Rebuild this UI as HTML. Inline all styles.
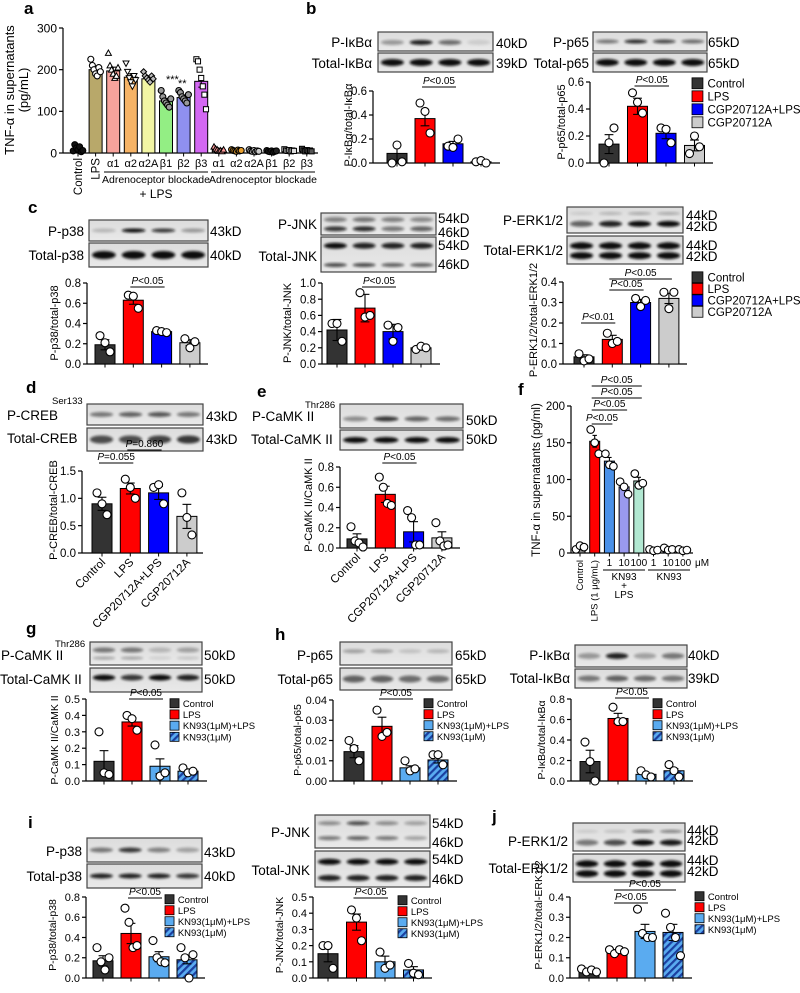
<!DOCTYPE html>
<html><head><meta charset="utf-8"><style>
html,body{margin:0;padding:0;background:#fff;}
svg{display:block;font-family:"Liberation Sans",Arial,sans-serif;}
</style></head><body>
<svg id="fig" width="800" height="993" viewBox="0 0 800 993" xmlns="http://www.w3.org/2000/svg">
<defs>
<pattern id="hatch" patternUnits="userSpaceOnUse" width="5" height="5" patternTransform="rotate(45)">
<rect width="5" height="5" fill="#5aabf0"/><rect width="2.2" height="5" fill="#1a3fa0"/></pattern>
<filter id="blur" x="-20%" y="-50%" width="140%" height="200%"><feGaussianBlur stdDeviation="1.4"/></filter>
<linearGradient id="blotbg" x1="0" y1="0" x2="0" y2="1"><stop offset="0" stop-color="#dcdcdc"/><stop offset="1" stop-color="#e9e9e9"/></linearGradient>
</defs>
</svg>
<script>
// ---------------- DATA ----------------
const groupsCGP = ['Control','LPS','CGP20712A+LPS','CGP20712A'];
const groupsKN = ['Control','LPS','KN93(1μM)+LPS','KN93(1μM)'];
const aCategories = ['Control','LPS','α1','α2','α2A','β1','β2','β3','α1','α2','α2A','β1','β2','β3'];
const aValues = [10,200,197,182,178,125,133,172,8,6,5,4,6,6];
const aErrors = [3,7,9,8,4,6,5,14,2,1,1,1,2,2];
const aPoints = [[5,20,12,8,15,3,6],[225,210,200,190,185,205,195],[240,210,200,190,180,185,205],[215,195,180,170,160,185,175],[195,185,180,175,170,185,178],[150,135,125,120,115,110,130],[150,145,135,130,125,120,140],[225,220,200,180,160,140,105],[15,10,8,5,6,4,8],[8,6,5,4,7,5,6],[8,5,4,6,3,5,4],[6,4,3,5,2,4,5],[9,6,5,7,4,6,5],[10,6,4,7,5,6,4]];
const b1Values = [0.08,0.37,0.16,0.01];
const b1Errors = [0.07,0.06,0.02,0.006];
const b1Points = [[0.0,0.15,0.01],[0.5,0.43,0.25],[0.14,0.13,0.2],[0.01,0.02,0.0]];
const b2Values = [0.14,0.42,0.22,0.13];
const b2Errors = [0.07,0.06,0.04,0.04];
const b2Points = [[0.0,0.15,0.26],[0.52,0.45,0.37],[0.26,0.25,0.15],[0.07,0.2,0.12]];
const cP38Values = [0.19,0.63,0.32,0.21];
const cP38Errors = [0.05,0.04,0.01,0.03];
const cP38Points = [[0.28,0.21,0.12],[0.68,0.67,0.55],[0.33,0.32,0.31],[0.25,0.16,0.22]];
const cJnkValues = [0.42,0.69,0.40,0.20];
const cJnkErrors = [0.13,0.17,0.09,0.03];
const cJnkPoints = [[0.5,0.5,0.28],[0.88,0.58,0.6],[0.48,0.28,0.45],[0.18,0.22,0.2]];
const cErkValues = [0.035,0.12,0.30,0.32];
const cErkErrors = [0.01,0.02,0.015,0.025];
const cErkPoints = [[0.05,0.015,0.025],[0.15,0.1,0.11],[0.32,0.28,0.31],[0.35,0.27,0.35]];
const dValues = [0.9,1.18,1.1,0.67];
const dErrors = [0.12,0.1,0.12,0.22];
const dPoints = [[1.1,0.9,0.7],[1.35,1.2,1.0],[1.2,1.25,0.9],[1.1,0.65,0.33]];
const eValues = [0.09,0.53,0.16,0.1];
const eErrors = [0.05,0.08,0.1,0.06];
const ePoints = [[0.21,0.07,0.05,0.01],[0.7,0.6,0.44,0.42],[0.37,0.3,0.03,0.03],[0.25,0.07,0.02,0.03]];
const fCategories = ['Control','LPS (1 μg/mL)','1','10','100','1','10','100'];
const fValues = [7,152,125,90,98,4,5,4];
const fErrors = [2,8,5,4,5,1,1,1];
const fPoints = [[5,10,8],[168,150,135],[135,120,118],[97,90,80],[108,92,95],[5,3,4],[7,4,5],[5,3,4]];
const gValues = [0.12,0.36,0.09,0.06];
const gErrors = [0.065,0.025,0.045,0.01];
const gPoints = [[0.3,0.05,0.04],[0.4,0.38,0.31],[0.22,0.03,0.05],[0.08,0.05,0.06]];
const h1Values = [0.0145,0.027,0.0065,0.0104];
const h1Errors = [0.003,0.0045,0.001,0.0015];
const h1Points = [[0.02,0.016,0.01],[0.035,0.022,0.024],[0.01,0.005,0.006],[0.013,0.013,0.008]];
const h2Values = [0.19,0.61,0.065,0.1];
const h2Errors = [0.11,0.05,0.01,0.02];
const h2Points = [[0.38,0.19,0.0],[0.72,0.58,0.58],[0.1,0.06,0.04],[0.16,0.1,0.04]];
const i1Values = [0.17,0.44,0.21,0.18];
const i1Errors = [0.05,0.1,0.05,0.04];
const i1Points = [[0.3,0.16,0.08,0.2],[0.69,0.55,0.3,0.32],[0.37,0.2,0.16,0.15],[0.3,0.2,0.0,0.23]];
const i2Values = [0.15,0.345,0.1,0.05];
const i2Errors = [0.05,0.05,0.035,0.02];
const i2Points = [[0.2,0.2,0.06],[0.42,0.37,0.23],[0.16,0.06,0.08],[0.09,0.03,0.02]];
const jValues = [0.035,0.13,0.23,0.225];
const jErrors = [0.005,0.01,0.035,0.04];
const jPoints = [[0.045,0.03,0.04,0.03],[0.14,0.12,0.14,0.13],[0.34,0.22,0.2,0.2],[0.32,0.25,0.2,0.11]];

// ---------------- HELPERS ----------------
const NS = 'http://www.w3.org/2000/svg';
const svg = document.getElementById('fig');
function el(tag, attrs, name, parent) {
  const e = document.createElementNS(NS, tag);
  for (const k in attrs) e.setAttribute(k, attrs[k]);
  
  
  (parent || svg).appendChild(e);
  return e;
}
function txt(x, y, s, size, name, opts) {
  opts = opts || {};
  const t = el('text', {x: x, y: y, 'font-size': size, fill: opts.fill || '#000', 'text-anchor': opts.anchor || 'start', 'font-weight': opts.bold ? 'bold' : 'normal'}, name);
  if (opts.rot !== undefined) t.setAttribute('transform', 'rotate(' + opts.rot + ' ' + x + ' ' + y + ')');
  if (opts.italic) t.setAttribute('font-style', 'italic');
  t.textContent = s;
  return t;
}
const CGP_COLORS = ['#333333', '#ff0000', '#0000ff', '#cccccc'];
const KN_COLORS = ['#333333', '#ff0000', '#5aabf0', 'url(#hatch)'];

function chart(cfg) {
  const g = el('g', {}, cfg.name);
  const y = v => cfg.y0 - (v / cfg.ymax) * (cfg.y0 - cfg.ytop);
  const xc = i => cfg.first + i * cfg.step;
  el('line', {x1: cfg.ax, y1: cfg.y0, x2: cfg.xEnd, y2: cfg.y0, stroke: '#000', 'stroke-width': 1.2}, 'x-axis', g);
  el('line', {x1: cfg.ax, y1: cfg.y0, x2: cfg.ax, y2: cfg.ytop, stroke: '#000', 'stroke-width': 1.2}, 'y-axis', g);
  cfg.ticks.forEach(t => {
    el('line', {x1: cfg.ax - 4, y1: y(t), x2: cfg.ax, y2: y(t), stroke: '#000', 'stroke-width': 1.2}, 'y-tick', g);
    const lab = txt(cfg.ax - 6, y(t) + cfg.tfs * 0.36, t.toFixed(cfg.dec), cfg.tfs, 'y-tick-label', {anchor: 'end'});
    g.appendChild(lab);
  });
  cfg.values.forEach((v, i) => {
    const cx = xc(i);
    el('line', {x1: cx, y1: cfg.y0, x2: cx, y2: cfg.y0 + 3.5, stroke: '#000', 'stroke-width': 1}, 'x-tick', g);
    const fill = cfg.colors[i];
    el('rect', {x: cx - cfg.bw / 2, y: y(v), width: cfg.bw, height: cfg.y0 - y(v), fill: fill, stroke: '#000', 'stroke-width': 1}, 'bar-' + (cfg.cats ? cfg.cats[i] : i), g);
    const e = cfg.errors[i];
    el('line', {x1: cx, y1: y(Math.max(0, v - e)), x2: cx, y2: y(v + e), stroke: '#000', 'stroke-width': 1.1}, 'error-bar', g);
    el('line', {x1: cx - cfg.bw * 0.22, y1: y(v + e), x2: cx + cfg.bw * 0.22, y2: y(v + e), stroke: '#000', 'stroke-width': 1.1}, 'error-cap', g);
    el('line', {x1: cx - cfg.bw * 0.22, y1: y(Math.max(0, v - e)), x2: cx + cfg.bw * 0.22, y2: y(Math.max(0, v - e)), stroke: '#000', 'stroke-width': 1.1}, 'error-cap', g);
    const pts = cfg.points[i];
    const n = pts.length;
    pts.forEach((p, k) => {
      const px = cx + (k - (n - 1) / 2) * cfg.jit;
      const shape = cfg.shapes ? cfg.shapes[i] : 'o';
      const pf = cfg.pfill ? cfg.pfill[i] : '#fff';
      const r = cfg.r;
      if (shape === 'o') el('circle', {cx: px, cy: y(p), r: r, fill: pf, stroke: '#000', 'stroke-width': 1.1}, 'data-point', g);
      else if (shape === 't') el('polygon', {points: `${px},${y(p) - r} ${px - r},${y(p) + r * 0.8} ${px + r},${y(p) + r * 0.8}`, fill: pf, stroke: '#000', 'stroke-width': 1}, 'data-point', g);
      else if (shape === 'v') el('polygon', {points: `${px},${y(p) + r} ${px - r},${y(p) - r * 0.8} ${px + r},${y(p) - r * 0.8}`, fill: pf, stroke: '#000', 'stroke-width': 1}, 'data-point', g);
      else if (shape === 'd') el('polygon', {points: `${px},${y(p) - r} ${px - r},${y(p)} ${px},${y(p) + r} ${px + r},${y(p)}`, fill: pf, stroke: '#000', 'stroke-width': 1}, 'data-point', g);
      else el('rect', {x: px - r * 0.85, y: y(p) - r * 0.85, width: r * 1.7, height: r * 1.7, fill: pf, stroke: '#000', 'stroke-width': 1}, 'data-point', g);
    });
  });
  (cfg.sig || []).forEach(s => {
    el('line', {x1: xc(s[0]) - 3, y1: s[2], x2: xc(s[1]) + 3, y2: s[2], stroke: '#000', 'stroke-width': 0.9}, 'significance-line', g);
    const t = el('text', {x: (xc(s[0]) + xc(s[1])) / 2, y: s[2] - 3, 'font-size': 10, 'text-anchor': 'middle'}, 'p-value-label', g);
    const it = el('tspan', {'font-style': 'italic'}, 'p-italic', t); it.textContent = 'P';
    const rest = el('tspan', {}, 'p-value', t); rest.textContent = s[3];
  });
  if (cfg.ylabel) {
    const t = txt(cfg.ylx, cfg.yly, cfg.ylabel, cfg.ylfs || 11, 'y-axis-title', {anchor: 'middle', rot: -90});
    g.appendChild(t);
  }
  return {g, xc, y};
}
function legend(x, y, dy, labels, colors, fs, name) {
  const g = el('g', {}, name);
  labels.forEach((l, i) => {
    el('rect', {x: x, y: y + i * dy - fs * 0.45, width: fs * 0.95, height: fs * 0.95, fill: colors[i], stroke: '#000', 'stroke-width': 0.8}, 'legend-swatch', g);
    g.appendChild(txt(x + fs * 1.35, y + i * dy + fs * 0.4, l, fs, 'legend-entry'));
  });
}
function blot(x, y, w, h, rows, name) {
  const g = el('g', {}, name);
  el('rect', {x: x, y: y, width: w, height: h, fill: 'url(#blotbg)', stroke: '#444', 'stroke-width': 1.2}, 'blot-frame', g);
  rows.forEach(r => {
    r[1].forEach((a, i) => {
      const cx = x + w * (i + 0.5) / r[1].length;
      el('ellipse', {cx: cx, cy: y + h * r[0], rx: w / r[1].length * 0.4, ry: r[2] / 2, fill: '#111', opacity: a, filter: 'url(#blur)'}, 'blot-band', g);
    });
  });
}
function blotLabel(x, y, s, anchor, name) { return txt(x, y, s, 13.5, name, {anchor: anchor}); }
function panelLetter(x, y, s) { txt(x, y, s, 17, 'panel-label-' + s, {bold: true}); }

// ---------------- PANEL A ----------------
panelLetter(24, 14, 'a');
const aColors = ['#333','#b8a86a','#f7a39c','#f6b366','#f2f5a4','#93ee84','#8f90f0','#d368f2','#999','#999','#999','#999','#999','#999'];
const aShapes = ['o','o','t','v','d','o','o','s','t','o','o','o','s','s'];
const aPfill = ['#111','#fff','#fff','#fff','#bbb','#999','#999','#fff','#f99','#e8a030','#ccc','#222','#ddd','#555'];
chart({name:'panel-a-chart', values:aValues, errors:aErrors, points:aPoints, cats:aCategories, colors:aColors, shapes:aShapes, pfill:aPfill,
  ax:63, y0:153, ytop:28, ymax:300, ticks:[0,100,200,300], dec:0, tfs:12, first:78, step:17.6, bw:13, xEnd:318, jit:1.6, r:3,
  ylabel:'', sig:[]});
txt(14, 90, 'TNF-α in supernatants', 13, 'y-axis-title', {anchor:'middle', rot:-90});
txt(28, 90, '(pg/mL)', 13, 'y-axis-title-unit', {anchor:'middle', rot:-90});
txt(166, 83, '***', 11, 'significance-stars');
txt(178, 87, '**', 11, 'significance-stars');
aCategories.forEach((c, i) => {
  const cx = 78 + i * 17.6;
  if (i < 2) txt(cx + 4, 158, c, 11.5, 'x-tick-label', {anchor:'end', rot:-90});
  else txt(cx, 167, c, 11, 'x-tick-label', {anchor:'middle'});
});
el('line',{x1:104,y1:172,x2:208,y2:172,stroke:'#000','stroke-width':1},'group-line');
el('line',{x1:211,y1:172,x2:315,y2:172,stroke:'#000','stroke-width':1},'group-line');
txt(156, 183, 'Adrenoceptor blockade', 10.5, 'group-label', {anchor:'middle'});
txt(263, 183, 'Adrenoceptor blockade', 10.5, 'group-label', {anchor:'middle'});
txt(156, 198, '+ LPS', 12, 'group-label-lps', {anchor:'middle'});

// ---------------- PANEL B ----------------
panelLetter(306, 14, 'b');
blot(378,32,115,19,[[0.55,[0.35,0.9,0.55,0.1],5]],'blot-p-ikba');
blot(378,53,115,19,[[0.5,[1,1,1,1],7]],'blot-total-ikba');
blotLabel(372,47,'P-IκBα','end','blot-label');
blotLabel(372,68,'Total-IκBα','end','blot-label');
blotLabel(496,48,'40kD','start','kd-label');
blotLabel(496,68,'39kD','start','kd-label');
chart({name:'panel-b-ikba-chart', values:b1Values, errors:b1Errors, points:b1Points, cats:groupsCGP, colors:CGP_COLORS,
  ax:373, y0:163, ytop:91, ymax:0.6, ticks:[0,0.2,0.4,0.6], dec:1, tfs:11.5, first:397, step:28, bw:20, xEnd:500, jit:5, r:4,
  ylabel:'P-IκBα/total-IκBα', ylx:352, yly:125, sig:[[1,2,87,'<0.05']]});
blot(593,32,114,19,[[0.5,[0.5,0.85,0.7,0.55],4]],'blot-p-p65');
blot(593,53,114,19,[[0.5,[1,1,1,1],7]],'blot-total-p65');
blotLabel(589,47,'P-p65','end','blot-label');
blotLabel(589,68,'Total-p65','end','blot-label');
blotLabel(708,47,'65kD','start','kd-label');
blotLabel(708,68,'65kD','start','kd-label');
chart({name:'panel-b-p65-chart', values:b2Values, errors:b2Errors, points:b2Points, cats:groupsCGP, colors:CGP_COLORS,
  ax:590, y0:163, ytop:82, ymax:0.6, ticks:[0,0.2,0.4,0.6], dec:1, tfs:11.5, first:609, step:28.5, bw:20, xEnd:713, jit:5, r:4,
  ylabel:'P-p65/total-p65', ylx:565, yly:122, sig:[[1,2,86,'<0.05']]});
legend(692, 83, 13, groupsCGP, CGP_COLORS, 11.5, 'legend-b');

// ---------------- PANEL C ----------------
panelLetter(28, 213, 'c');
blot(89,220,119,21,[[0.5,[0.2,1,0.8,0.35],4]],'blot-p-p38');
blot(89,243,119,24,[[0.5,[1,1,1,1],8]],'blot-total-p38');
blotLabel(84,236,'P-p38','end','blot-label');
blotLabel(84,260,'Total-p38','end','blot-label');
blotLabel(210,236,'43kD','start','kd-label');
blotLabel(210,260,'40kD','start','kd-label');
chart({name:'panel-c-p38-chart', values:cP38Values, errors:cP38Errors, points:cP38Points, cats:groupsCGP, colors:CGP_COLORS,
  ax:87, y0:364, ytop:283, ymax:0.8, ticks:[0,0.2,0.4,0.6,0.8], dec:1, tfs:11.5, first:105, step:28.3, bw:20, xEnd:208, jit:5, r:4,
  ylabel:'P-p38/total-p38', ylx:58, yly:323, sig:[[1,2,287,'<0.05']]});
blot(321,213,115,22,[[0.3,[0.45,0.5,0.45,0.4],5],[0.72,[0.8,0.85,0.5,0.6],5]],'blot-p-jnk');
blot(321,237,115,35,[[0.25,[1,0.9,0.9,0.9],6],[0.8,[0.7,0.7,0.6,0.6],4]],'blot-total-jnk');
blotLabel(317,229,'P-JNK','end','blot-label');
blotLabel(317,261,'Total-JNK','end','blot-label');
blotLabel(438,223,'54kD','start','kd-label');
blotLabel(438,237,'46kD','start','kd-label');
blotLabel(438,250,'54kD','start','kd-label');
blotLabel(438,269,'46kD','start','kd-label');
chart({name:'panel-c-jnk-chart', values:cJnkValues, errors:cJnkErrors, points:cJnkPoints, cats:groupsCGP, colors:CGP_COLORS,
  ax:322, y0:364, ytop:283, ymax:1.0, ticks:[0,0.2,0.4,0.6,0.8,1.0], dec:1, tfs:11.5, first:337, step:28, bw:20, xEnd:440, jit:5, r:4,
  ylabel:'P-JNK/total-JNK', ylx:291, yly:323, sig:[[1,2,287,'<0.05']]});
blot(567,207,116,26,[[0.25,[0.1,0.2,0.25,0.25],3],[0.65,[0.6,0.9,1,1],6]],'blot-p-erk');
blot(567,236,116,28,[[0.35,[1,1,1,1],7],[0.7,[1,1,1,1],7]],'blot-total-erk');
blotLabel(563,225,'P-ERK1/2','end','blot-label');
blotLabel(563,255,'Total-ERK1/2','end','blot-label');
blotLabel(686,220,'44kD','start','kd-label');
blotLabel(686,231,'42kD','start','kd-label');
blotLabel(686,250,'44kD','start','kd-label');
blotLabel(686,261,'42kD','start','kd-label');
chart({name:'panel-c-erk-chart', values:cErkValues, errors:cErkErrors, points:cErkPoints, cats:groupsCGP, colors:CGP_COLORS,
  ax:563, y0:364, ytop:282, ymax:0.4, ticks:[0,0.1,0.2,0.3,0.4], dec:1, tfs:11.5, first:584, step:28.3, bw:20, xEnd:687, jit:5, r:4,
  ylabel:'P-ERK1/2/total-ERK1/2', ylx:537, yly:320, sig:[[0,1,323,'<0.01'],[1,2,290,'<0.05'],[1,3,279,'<0.05']]});
legend(692, 277, 11.5, groupsCGP, CGP_COLORS, 11.5, 'legend-c');

// ---------------- PANEL D ----------------
panelLetter(26, 393, 'd');
blot(87,404,116,21,[[0.5,[0.5,0.6,0.65,0.5],5]],'blot-p-creb');
blot(87,428,116,23,[[0.5,[0.7,0.7,0.75,0.8],8]],'blot-total-creb');
blotLabel(7,420,'P-CREB','start','blot-label');
txt(52,404,'Ser133',9.5,'phospho-site-label');
blotLabel(7,443,'Total-CREB','start','blot-label');
blotLabel(206,421,'43kD','start','kd-label');
blotLabel(206,444,'43kD','start','kd-label');
const dChart = chart({name:'panel-d-chart', values:dValues, errors:dErrors, points:dPoints, cats:groupsCGP, colors:CGP_COLORS,
  ax:82, y0:553, ytop:471, ymax:1.5, ticks:[0,0.5,1.0,1.5], dec:1, tfs:11.5, first:102, step:28.3, bw:20, xEnd:203, jit:5, r:4,
  ylabel:'P-CREB/total-CREB', ylx:57, yly:510, sig:[[0,1,463,'=0.055'],[1,2,450,'=0.860']]});
groupsCGP.forEach((c,i)=>{ txt(dChart.xc(i)+4, 563, c, 11.5, 'x-tick-label', {anchor:'end', rot:-45}); });

// ---------------- PANEL E ----------------
panelLetter(257, 397, 'e');
blot(340,404,123,24,[[0.62,[0.4,0.8,0.6,0.55],5]],'blot-p-camk');
blot(340,430,123,20,[[0.5,[1,1,1,1],6]],'blot-total-camk');
txt(305,408,'Thr286',9.5,'phospho-site-label');
blotLabel(252,421,'P-CaMK II','start','blot-label');
blotLabel(251,444,'Total-CaMK II','start','blot-label');
blotLabel(466,425,'50kD','start','kd-label');
blotLabel(466,444,'50kD','start','kd-label');
const eChart = chart({name:'panel-e-chart', values:eValues, errors:eErrors, points:ePoints, cats:groupsCGP, colors:CGP_COLORS,
  ax:340, y0:548, ytop:467, ymax:0.8, ticks:[0,0.2,0.4,0.6,0.8], dec:1, tfs:11.5, first:357, step:28.3, bw:20, xEnd:460, jit:4, r:4,
  ylabel:'P-CaMK II/CaMK II', ylx:312, yly:505, sig:[[1,2,463,'<0.05']]});
groupsCGP.forEach((c,i)=>{ txt(eChart.xc(i)+4, 558, c, 11.5, 'x-tick-label', {anchor:'end', rot:-45}); });

// ---------------- PANEL F ----------------
panelLetter(518, 395, 'f');
const fColors = ['#888','#ff0000','#4a90e8','#9a9aee','#b2e8d2','#3a5aa8','#3a5aa8','#3a5aa8'];
const fChart = chart({name:'panel-f-chart', values:fValues, errors:fErrors, points:fPoints, cats:fCategories, colors:fColors,
  ax:571, y0:553, ytop:406, ymax:200, ticks:[0,50,100,150,200], dec:0, tfs:11.5, first:580, step:14.7, bw:10, xEnd:693, jit:4, r:3.8,
  ylabel:'TNF-α in supernatants (pg/ml)', ylx:540, yly:480, ylfs:11.5,
  sig:[[1,4,386,'<0.05'],[1,4,398,'<0.05'],[1,3,410,'<0.05'],[1,2,424,'<0.05']]});
fCategories.forEach((c,i)=>{
  const cx = fChart.xc(i);
  if (i < 2) txt(cx+3, 560, c, 9.5, 'x-tick-label', {anchor:'end', rot:-90});
  else txt(cx, 566, c, 10, 'x-tick-label', {anchor:'middle'});
});
txt(695, 566, 'μM', 10, 'unit-label');
el('line',{x1:603,y1:570,x2:645,y2:570,stroke:'#000','stroke-width':0.9},'group-line');
el('line',{x1:648,y1:570,x2:690,y2:570,stroke:'#000','stroke-width':0.9},'group-line');
txt(624, 580, 'KN93', 10, 'group-label', {anchor:'middle'});
txt(624, 589, '+', 10, 'group-label', {anchor:'middle'});
txt(624, 598, 'LPS', 10, 'group-label', {anchor:'middle'});
txt(669, 580, 'KN93', 10, 'group-label', {anchor:'middle'});

// ---------------- PANEL G ----------------
panelLetter(26, 634, 'g');
blot(90,642,112,23,[[0.35,[0.5,0.5,0.2,0.3],5],[0.7,[0.3,0.3,0.1,0.15],3]],'blot-p-camk-g');
blot(90,668,112,24,[[0.4,[1,0.8,1,0.9],6]],'blot-total-camk-g');
txt(55,647,'Thr286',9.5,'phospho-site-label');
blotLabel(1,660,'P-CaMK II','start','blot-label');
blotLabel(0,684,'Total-CaMK II','start','blot-label');
blotLabel(204,660,'50kD','start','kd-label');
blotLabel(204,684,'50kD','start','kd-label');
chart({name:'panel-g-chart', values:gValues, errors:gErrors, points:gPoints, cats:groupsKN, colors:KN_COLORS,
  ax:86, y0:781, ytop:699, ymax:0.5, ticks:[0,0.1,0.2,0.3,0.4,0.5], dec:1, tfs:11, first:104, step:28, bw:20, xEnd:207, jit:5, r:4,
  ylabel:'P-CaMK II/CaMK II', ylx:58, yly:740, ylfs:10.5, sig:[[1,2,699,'<0.05']]});
legend(170, 703, 11.2, groupsKN, KN_COLORS, 9.5, 'legend-g');

// ---------------- PANEL H ----------------
panelLetter(275, 640, 'h');
blot(340,642,112,23,[[0.4,[0.3,0.3,0.15,0.2],4]],'blot-p-p65-h');
blot(340,668,112,22,[[0.5,[0.6,0.6,0.55,0.55],7]],'blot-total-p65-h');
blotLabel(333,660,'P-p65','end','blot-label');
blotLabel(333,684,'Total-p65','end','blot-label');
blotLabel(455,660,'65kD','start','kd-label');
blotLabel(455,684,'65kD','start','kd-label');
chart({name:'panel-h-p65-chart', values:h1Values, errors:h1Errors, points:h1Points, cats:groupsKN, colors:KN_COLORS,
  ax:333, y0:781, ytop:700, ymax:0.04, ticks:[0,0.01,0.02,0.03,0.04], dec:2, tfs:11, first:354, step:28, bw:20, xEnd:457, jit:5, r:4,
  ylabel:'P-p65/total-p65', ylx:301, yly:740, ylfs:10.5, sig:[[1,2,699,'<0.05']]});
legend(424, 703, 11, groupsKN, KN_COLORS, 9.5, 'legend-h-p65');
blot(575,645,112,22,[[0.5,[0.35,0.9,0.3,0.5],6]],'blot-p-ikba-h');
blot(575,669,112,19,[[0.5,[0.5,0.6,0.55,0.5],6]],'blot-total-ikba-h');
blotLabel(570,660,'P-IκBα','end','blot-label');
blotLabel(570,683,'Total-IκBα','end','blot-label');
blotLabel(688,660,'40kD','start','kd-label');
blotLabel(688,683,'39kD','start','kd-label');
chart({name:'panel-h-ikba-chart', values:h2Values, errors:h2Errors, points:h2Points, cats:groupsKN, colors:KN_COLORS,
  ax:571, y0:781, ytop:699, ymax:0.8, ticks:[0,0.2,0.4,0.6,0.8], dec:1, tfs:11, first:590, step:28, bw:20, xEnd:693, jit:5, r:4,
  ylabel:'P-IκBα/total-IκBα', ylx:545, yly:740, ylfs:10.5, sig:[[1,2,698,'<0.05']]});
legend(653, 703, 11, groupsKN, KN_COLORS, 9.5, 'legend-h-ikba');

// ---------------- PANEL I ----------------
panelLetter(28, 828, 'i');
blot(87,838,115,24,[[0.5,[0.5,0.8,0.45,0.3],5]],'blot-p-p38-i');
blot(87,864,115,24,[[0.5,[0.9,0.9,0.9,0.8],5]],'blot-total-p38-i');
blotLabel(82,856,'P-p38','end','blot-label');
blotLabel(82,881,'Total-p38','end','blot-label');
blotLabel(204,857,'43kD','start','kd-label');
blotLabel(204,881,'40kD','start','kd-label');
chart({name:'panel-i-p38-chart', values:i1Values, errors:i1Errors, points:i1Points, cats:groupsKN, colors:KN_COLORS,
  ax:86, y0:978, ytop:897, ymax:0.8, ticks:[0,0.2,0.4,0.6,0.8], dec:1, tfs:11, first:103, step:28, bw:20, xEnd:205, jit:4, r:4,
  ylabel:'P-p38/total-p38', ylx:56, yly:935, ylfs:10.5, sig:[[1,2,898,'<0.05']]});
legend(165, 899, 11, groupsKN, KN_COLORS, 9.5, 'legend-i-p38');
blot(315,815,115,33,[[0.25,[0.4,0.7,0.4,0.3],4],[0.7,[0.5,0.6,0.5,0.3],4]],'blot-p-jnk-i');
blot(315,851,115,36,[[0.3,[1,1,1,1],6],[0.75,[0.9,0.9,0.9,0.9],6]],'blot-total-jnk-i');
blotLabel(310,837,'P-JNK','end','blot-label');
blotLabel(310,875,'Total-JNK','end','blot-label');
blotLabel(432,828,'54kD','start','kd-label');
blotLabel(432,847,'46kD','start','kd-label');
blotLabel(432,864,'54kD','start','kd-label');
blotLabel(432,884,'46kD','start','kd-label');
chart({name:'panel-i-jnk-chart', values:i2Values, errors:i2Errors, points:i2Points, cats:groupsKN, colors:KN_COLORS,
  ax:313, y0:978, ytop:897, ymax:0.5, ticks:[0,0.1,0.2,0.3,0.4,0.5], dec:1, tfs:11, first:328, step:28.5, bw:20, xEnd:432, jit:5, r:4,
  ylabel:'P-JNK/total-JNK', ylx:283, yly:935, ylfs:10.5, sig:[[1,2,898,'<0.05']]});
legend(398, 900, 11, groupsKN, KN_COLORS, 9.5, 'legend-i-jnk');

// ---------------- PANEL J ----------------
panelLetter(492, 822, 'j');
blot(573,823,112,28,[[0.3,[0.1,0.15,0.5,0.45],3],[0.7,[0.5,0.7,1,0.95],6]],'blot-p-erk-j');
blot(573,854,112,28,[[0.35,[1,1,1,1],7],[0.7,[1,1,1,1],7]],'blot-total-erk-j');
blotLabel(568,846,'P-ERK1/2','end','blot-label');
blotLabel(568,873,'Total-ERK1/2','end','blot-label');
blotLabel(687,835,'44kD','start','kd-label');
blotLabel(687,845,'42kD','start','kd-label');
blotLabel(687,865,'44kD','start','kd-label');
blotLabel(687,876,'42kD','start','kd-label');
chart({name:'panel-j-chart', values:jValues, errors:jErrors, points:jPoints, cats:groupsKN, colors:KN_COLORS,
  ax:570, y0:978, ytop:897, ymax:0.4, ticks:[0,0.1,0.2,0.3,0.4], dec:1, tfs:11, first:589, step:28, bw:20, xEnd:692, jit:5, r:4,
  ylabel:'P-ERK1/2/total-ERK1/2', ylx:542, yly:915, ylfs:10.5, sig:[[1,2,903,'<0.05'],[1,3,890,'<0.05']]});
legend(695, 896, 11, groupsKN, KN_COLORS, 9.5, 'legend-j');
</script>
</body></html>
